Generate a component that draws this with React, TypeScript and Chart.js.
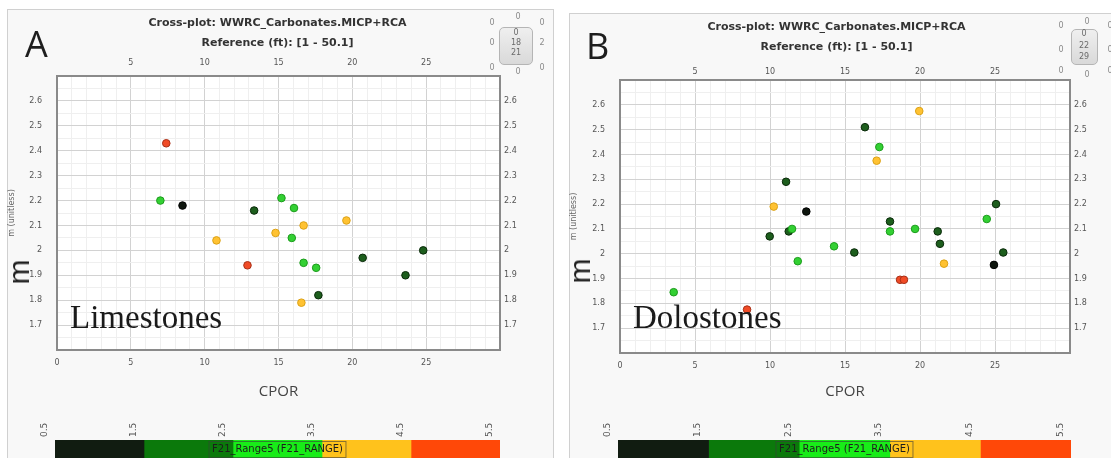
import React, { useEffect, useRef } from 'react';
import { Chart, registerables } from 'chart.js';

Chart.register(...registerables);

const TITLE_LINES = ['Cross-plot: WWRC_Carbonates.MICP+RCA', 'Reference (ft): [1 - 50.1]'];
const X_TITLE = 'CPOR';
const Y_TITLE = 'm (unitless)';

// panel A: limestones
const LIME_CPOR = [7.4, 7.0, 8.5, 13.35, 10.8, 12.9, 14.8, 15.2, 16.05, 16.7, 15.9, 19.6, 16.7, 17.55, 20.7, 24.8, 23.6, 17.7, 16.55];
const LIME_M = [2.43, 2.2, 2.18, 2.16, 2.04, 1.94, 2.07, 2.21, 2.17, 2.1, 2.05, 2.12, 1.95, 1.93, 1.97, 2.0, 1.9, 1.82, 1.79];
const LIME_RANGE = [5, 3, 1, 2, 4, 5, 4, 3, 3, 4, 3, 4, 3, 3, 2, 2, 2, 2, 4];

// panel B: dolostones
const DOLO_CPOR = [11.07, 10.25, 12.42, 11.25, 11.47, 9.98, 11.85, 3.58, 8.47, 19.95, 16.33, 17.29, 17.11, 25.07, 24.45, 18.0, 18.0, 19.67, 21.18, 21.33, 14.27, 15.62, 25.55, 21.6, 24.93, 18.67, 18.93];
const DOLO_M = [2.29, 2.19, 2.17, 2.09, 2.1, 2.07, 1.97, 1.845, 1.775, 2.575, 2.51, 2.43, 2.375, 2.2, 2.14, 2.13, 2.09, 2.1, 2.09, 2.04, 2.03, 2.005, 2.005, 1.96, 1.955, 1.895, 1.895];
const DOLO_RANGE = [2, 4, 1, 2, 3, 2, 3, 3, 5, 4, 2, 3, 4, 2, 3, 2, 3, 3, 2, 2, 3, 2, 2, 4, 1, 5, 5];

// colour bar (F21_RANGE classes 1..5)
const CB_TICKS = [0.5, 1.5, 2.5, 3.5, 4.5, 5.5];
const CB_LABEL = 'F21_Range5 (F21_RANGE)';
const RANGE_COLORS = ['#111c11', '#0b790b', '#18ec18', '#ffc21c', '#ff4808'];
const POINT_FILL = ['#0d150d', '#1d5e1d', '#33d033', '#ffc232', '#f04b26'];
const POINT_EDGE = ['#000000', '#0a2a0a', '#1c9c1c', '#dca216', '#a83018'];

const TICK_FONT = { family: 'DejaVu Sans', size: 8 };
const TICK_COLOR = '#555555';

const isMajorX = (v: number) => Math.abs(v / 5 - Math.round(v / 5)) < 1e-6;
const isMajorY = (v: number) => Math.abs(v * 10 - Math.round(v * 10)) < 1e-6;
const yLabel = (v: any) => {
  const n = Number(v);
  return isMajorY(n) && n > 1.65 && n < 2.65 ? String(Number(n.toFixed(1))) : '';
};

const plotBg = {
  id: 'plotBg',
  beforeDraw(chart: any) {
    const { ctx, chartArea: a } = chart;
    ctx.save();
    ctx.fillStyle = '#ffffff';
    ctx.fillRect(a.left, a.top, a.right - a.left, a.bottom - a.top);
    ctx.restore();
  },
};

const cbText = {
  id: 'cbText',
  afterDatasetsDraw(chart: any) {
    const { ctx, chartArea: a } = chart;
    const cx = (a.left + a.right) / 2;
    ctx.save();
    ctx.font = '10px "DejaVu Sans"';
    const w = ctx.measureText(CB_LABEL).width;
    ctx.strokeStyle = 'rgba(60,60,60,0.6)';
    ctx.lineWidth = 1;
    ctx.strokeRect(cx - w / 2 - 3, a.top + 1.5, w + 6, 16);
    ctx.fillStyle = '#1c1c1c';
    ctx.textAlign = 'center';
    ctx.textBaseline = 'middle';
    ctx.fillText(CB_LABEL, cx, a.top + 9.5);
    ctx.restore();
  },
};

interface ScatterProps {
  xs: number[];
  ys: number[];
  cats: number[];
  left: number;
  top: number;
  width: number;
  height: number;
  leftW: number;
  rightW: number;
  bottomH: number;
  topTickPad: number;
}

const Scatter: React.FC<ScatterProps> = (p) => {
  const ref = useRef<HTMLCanvasElement>(null);

  useEffect(() => {
    if (!ref.current) return;
    const border = { color: '#8a8a8a', width: 2 };
    const chart = new Chart(ref.current, {
      type: 'scatter',
      data: {
        datasets: [{
          data: p.xs.map((x, i) => ({ x, y: p.ys[i] })),
          pointBackgroundColor: p.cats.map((c) => POINT_FILL[c - 1]),
          pointBorderColor: p.cats.map((c) => POINT_EDGE[c - 1]),
          pointRadius: 3.8,
          pointBorderWidth: 1,
          xAxisID: 'x',
          yAxisID: 'y',
        }],
      },
      options: {
        animation: false,
        responsive: false,
        layout: { padding: 0 },
        plugins: {
          legend: { display: false },
          tooltip: { enabled: false },
          title: {
            display: true,
            text: TITLE_LINES,
            color: '#333',
            font: { family: 'DejaVu Sans', size: 11, weight: 'bold', lineHeight: 1.82 },
            padding: { top: 13, bottom: 0 },
          },
        },
        scales: {
          x: {
            type: 'linear',
            position: 'bottom',
            min: 0,
            max: 30,
            ticks: {
              stepSize: 1,
              autoSkip: false,
              maxRotation: 0,
              padding: 8,
              color: TICK_COLOR,
              font: TICK_FONT,
              callback: (v: any) => (isMajorX(Number(v)) && Number(v) < 30 ? String(v) : ''),
            },
            grid: {
              drawTicks: false,
              color: (c: any) => (c.tick && isMajorX(c.tick.value) ? '#d2d2d2' : '#efefef'),
            },
            border,
            title: {
              display: true,
              text: X_TITLE,
              color: '#444',
              font: { family: 'Open Sans', size: 15 },
              padding: { top: 0, bottom: 4 },
            },
            afterFit: (s: any) => { s.height = p.bottomH; },
          },
          x2: {
            type: 'linear',
            position: 'top',
            min: 0,
            max: 30,
            ticks: {
              stepSize: 5,
              maxRotation: 0,
              padding: p.topTickPad,
              color: TICK_COLOR,
              font: TICK_FONT,
              callback: (v: any) => (Number(v) > 0 && Number(v) < 30 ? String(v) : ''),
            },
            grid: { drawOnChartArea: false, drawTicks: false },
            border,
            afterFit: (s: any) => { s.height = 23; },
          },
          y: {
            type: 'linear',
            position: 'left',
            min: 1.6,
            max: 2.7,
            ticks: {
              stepSize: 0.05,
              autoSkip: false,
              padding: 15,
              color: TICK_COLOR,
              font: TICK_FONT,
              callback: yLabel,
            },
            grid: {
              drawTicks: false,
              color: (c: any) => (c.tick && isMajorY(c.tick.value) ? '#d2d2d2' : '#efefef'),
            },
            border,
            title: {
              display: true,
              text: Y_TITLE,
              color: '#666',
              font: { family: 'DejaVu Sans', size: 8 },
              padding: { top: 7, bottom: 0 },
            },
            afterFit: (s: any) => { s.width = p.leftW; },
          },
          y2: {
            type: 'linear',
            position: 'right',
            min: 1.6,
            max: 2.7,
            ticks: {
              stepSize: 0.1,
              autoSkip: false,
              padding: 4,
              color: TICK_COLOR,
              font: TICK_FONT,
              callback: yLabel,
            },
            grid: { drawOnChartArea: false, drawTicks: false },
            border,
            afterFit: (s: any) => { s.width = p.rightW; },
          },
        },
      },
      plugins: [plotBg],
    } as any);

    return () => chart.destroy();
  }, []);

  return (
    <canvas
      ref={ref}
      width={p.width}
      height={p.height}
      style={{ position: 'absolute', left: p.left, top: p.top, width: p.width, height: p.height }}
    />
  );
};

interface ColorBarProps {
  left: number;
  top: number;
  width: number;
  height: number;
  padL: number;
  padR: number;
}

const ColorBar: React.FC<ColorBarProps> = (p) => {
  const ref = useRef<HTMLCanvasElement>(null);

  useEffect(() => {
    if (!ref.current) return;
    const chart = new Chart(ref.current, {
      type: 'bar',
      data: {
        labels: ['F21_RANGE'],
        datasets: RANGE_COLORS.map((c, i) => ({
          data: [[CB_TICKS[i], CB_TICKS[i + 1]]],
          backgroundColor: c,
          borderWidth: 0,
          grouped: false,
          barPercentage: 1,
          categoryPercentage: 1,
        })),
      },
      options: {
        indexAxis: 'y',
        animation: false,
        responsive: false,
        layout: { padding: { left: p.padL, right: p.padR, top: 0, bottom: 0 } },
        plugins: { legend: { display: false }, tooltip: { enabled: false } },
        scales: {
          x: {
            type: 'linear',
            position: 'top',
            min: CB_TICKS[0],
            max: CB_TICKS[CB_TICKS.length - 1],
            afterBuildTicks: (s: any) => { s.ticks = CB_TICKS.map((v) => ({ value: v })); },
            ticks: {
              minRotation: 90,
              maxRotation: 90,
              padding: 3,
              color: TICK_COLOR,
              font: { family: 'DejaVu Sans', size: 9 },
              callback: (v: any) => Number(v).toFixed(1),
            },
            grid: { display: false, drawTicks: false },
            border: { display: false },
            afterFit: (s: any) => { s.height = 35; },
          },
          y: { display: false },
        },
      },
      plugins: [cbText],
    } as any);

    return () => chart.destroy();
  }, []);

  return (
    <canvas
      ref={ref}
      width={p.width}
      height={p.height}
      style={{ position: 'absolute', left: p.left, top: p.top, width: p.width, height: p.height }}
    />
  );
};

type Mark = [string, number, number];

const Widget: React.FC<{ box: [number, number, number, number]; inner: Mark[]; marks: Mark[] }> = ({ box, inner, marks }) => (
  <>
    <div
      style={{
        position: 'absolute', left: box[0], top: box[1], width: box[2], height: box[3],
        border: '1px solid #b5b5b5', borderRadius: 5, boxSizing: 'border-box',
        background: 'linear-gradient(#efefef, #d9d9d9)',
      }}
    />
    {[...inner, ...marks].map(([t, x, y], i) => (
      <span
        key={i}
        style={{
          position: 'absolute', left: x, top: y, transform: 'translate(-50%, -50%)',
          font: '8px "DejaVu Sans"', color: i < inner.length ? '#6a6a6a' : '#8a8a8a', lineHeight: 1,
        }}
      >
        {t}
      </span>
    ))}
  </>
);

const bigLetter: React.CSSProperties = {
  position: 'absolute', font: '36px "Open Sans"', color: '#1e1e1e', lineHeight: 1,
};
const bigM: React.CSSProperties = {
  position: 'absolute', font: '30px "Liberation Sans"', color: '#1e1e1e', lineHeight: 1,
  transform: 'translate(-50%, -50%) rotate(-90deg)',
};
const rockName: React.CSSProperties = {
  position: 'absolute', font: '33px "Liberation Serif"', color: '#1a1a1a', lineHeight: '33px', whiteSpace: 'nowrap',
};

export default function App() {
  return (
    <div style={{ position: 'absolute', left: 0, top: 0, width: 1111, height: 458, overflow: 'hidden', background: '#ffffff' }}>
      {/* panel frames */}
      <div style={{ position: 'absolute', left: 7, top: 9, width: 545, height: 470, border: '1px solid #d0d0d0', background: '#f8f8f8' }} />
      <div style={{ position: 'absolute', left: 569, top: 13, width: 570, height: 470, border: '1px solid #d0d0d0', background: '#f8f8f8' }} />

      <Scatter xs={LIME_CPOR} ys={LIME_M} cats={LIME_RANGE} left={0} top={0} width={555} height={405} leftW={57} rightW={55} bottomH={55} topTickPad={8} />
      <Scatter xs={DOLO_CPOR} ys={DOLO_M} cats={DOLO_RANGE} left={562} top={4} width={549} height={401} leftW={58} rightW={41} bottomH={52} topTickPad={3} />

      <ColorBar left={40} top={405} width={480} height={53} padL={15} padR={20} />
      <ColorBar left={600} top={405} width={511} height={53} padL={18} padR={40} />

      <span style={{ ...bigLetter, left: 25, top: 26 }}>A</span>
      <span style={{ ...bigLetter, left: 586, top: 28 }}>B</span>

      <span style={{ ...bigM, left: 19, top: 272 }}>m</span>
      <span style={{ ...bigM, left: 580, top: 271 }}>m</span>

      <span style={{ ...rockName, left: 70, top: 301 }}>Limestones</span>
      <span style={{ ...rockName, left: 633, top: 301 }}>Dolostones</span>

      <Widget
        box={[499, 27, 34, 38]}
        inner={[['0', 516, 33], ['18', 516, 43], ['21', 516, 53]]}
        marks={[['0', 492, 23], ['0', 518, 17], ['0', 542, 23], ['0', 492, 43], ['2', 542, 43], ['0', 492, 68], ['0', 518, 72], ['0', 542, 68]]}
      />
      <Widget
        box={[1071, 29, 27, 36]}
        inner={[['0', 1084, 34], ['22', 1084, 46], ['29', 1084, 57]]}
        marks={[['0', 1061, 26], ['0', 1087, 22], ['0', 1061, 50], ['0', 1061, 71], ['0', 1087, 75], ['0', 1110, 26], ['0', 1110, 50], ['0', 1110, 71]]}
      />
    </div>
  );
}
